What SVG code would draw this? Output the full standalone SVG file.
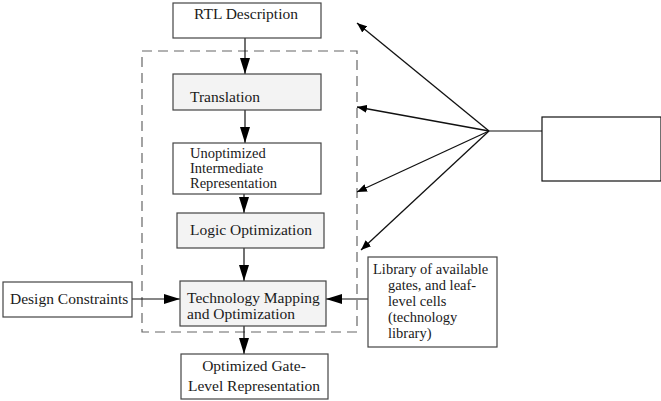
<svg xmlns="http://www.w3.org/2000/svg" width="661" height="401" viewBox="0 0 661 401">
<style>
.box{fill:#fff;stroke:#444;stroke-width:1.2}
.gbox{fill:#f3f3f3;stroke:#444;stroke-width:1.2}
.t{font-family:"Liberation Serif","Times New Roman",serif;font-size:15.5px;fill:#1a1a1a}
.sm{font-size:14.5px}
.c{stroke:#111;stroke-width:1.2;fill:none}
.d{stroke:#111;stroke-width:1.3;fill:none}
</style>
<defs>
<marker id="a" viewBox="0 0 16 10" refX="16" refY="5" markerWidth="16" markerHeight="10" markerUnits="userSpaceOnUse" orient="auto">
<path d="M0,0 L16,5 L0,10 Z" fill="#000"/>
</marker>
<marker id="s" viewBox="0 0 10 8" refX="10" refY="4" markerWidth="10" markerHeight="8" markerUnits="userSpaceOnUse" orient="auto">
<path d="M0,0 L10,4 L0,8 Z" fill="#000"/>
</marker>
</defs>
<rect x="142" y="51" width="215" height="281" fill="none" stroke="#666" stroke-width="1.2" stroke-dasharray="10,6"/>
<g id="connectors">
<line class="c" x1="245" y1="38" x2="245" y2="74" marker-end="url(#a)"/>
<line class="c" x1="245" y1="110" x2="245" y2="143" marker-end="url(#a)"/>
<line class="c" x1="244" y1="194" x2="244" y2="213" marker-end="url(#a)"/>
<line class="c" x1="244" y1="248" x2="244" y2="281" marker-end="url(#a)"/>
<line class="c" x1="244" y1="326" x2="244" y2="354" marker-end="url(#a)"/>
<line class="c" x1="132" y1="299" x2="180" y2="299" marker-end="url(#a)"/>
<line class="c" x1="368" y1="299" x2="326" y2="299" marker-end="url(#a)"/>
<line class="c" x1="489" y1="131" x2="542" y2="131"/>
<line class="d" x1="489" y1="131" x2="357" y2="23" marker-end="url(#s)"/>
<line class="d" x1="489" y1="131" x2="357" y2="107" marker-end="url(#s)"/>
<line class="d" x1="489" y1="131" x2="357" y2="192" marker-end="url(#s)"/>
<line class="d" x1="489" y1="131" x2="361" y2="250" marker-end="url(#s)"/>
</g>
<g id="rtl">
<rect class="box" x="173" y="3" width="148" height="35"/>
<text class="t" x="246" y="19" text-anchor="middle">RTL Description</text>
</g>
<g id="translation">
<rect class="gbox" x="173" y="74" width="148" height="36"/>
<text class="t" x="190" y="102">Translation</text>
</g>
<g id="unoptimized">
<rect class="box" x="173" y="143" width="148" height="51"/>
<text class="t sm" x="190" y="158">Unoptimized</text>
<text class="t sm" x="190" y="173">Intermediate</text>
<text class="t sm" x="190" y="188">Representation</text>
</g>
<g id="logic">
<rect class="gbox" x="177" y="213" width="147" height="35"/>
<text class="t" x="251" y="235" text-anchor="middle">Logic Optimization</text>
</g>
<g id="techmap">
<rect class="gbox" x="180" y="281" width="146" height="45"/>
<text class="t" x="187" y="303">Technology Mapping</text>
<text class="t" x="187" y="319">and Optimization</text>
</g>
<g id="optimized">
<rect class="box" x="181" y="354" width="147" height="45"/>
<text class="t" x="254" y="371" text-anchor="middle">Optimized Gate-</text>
<text class="t" x="254" y="391" text-anchor="middle">Level Representation</text>
</g>
<g id="constraints">
<rect class="box" x="3" y="282" width="129" height="35"/>
<text class="t" x="10" y="304">Design Constraints</text>
</g>
<g id="library">
<rect class="box" x="368" y="257" width="129" height="90"/>
<text class="t sm" x="373" y="274">Library of available</text>
<text class="t sm" x="388" y="290">gates, and leaf-</text>
<text class="t sm" x="388" y="306">level cells</text>
<text class="t sm" x="388" y="322">(technology</text>
<text class="t sm" x="388" y="338">library)</text>
</g>
<g id="blank">
<rect x="542" y="117" width="119" height="64" fill="#fff" stroke="#111" stroke-width="1.2"/>
</g>
</svg>
